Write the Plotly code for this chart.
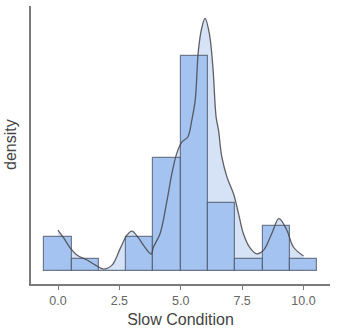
import plotly.graph_objects as go

# Histogram data (counts per bin)
bin_centers = [0.0, 1.111, 2.222, 3.333, 4.444, 5.556, 6.667, 7.778, 8.889, 10.0]
bin_counts = [3, 1, 0, 3, 10, 19, 6, 1, 4, 1]
bin_width = 10 / 9

# Density curve (scaled to counts)
kde_x = [0.0, 0.23, 0.5, 0.77, 1.18, 1.52, 1.86, 2.2, 2.54, 2.81, 3.01, 3.28, 3.5,
         3.79, 3.89, 4.16, 4.44, 4.64, 4.84, 5.05, 5.28, 5.45, 5.59, 5.72, 5.86,
         5.99, 6.17, 6.31, 6.44, 6.54, 6.67, 6.88, 7.15, 7.35, 7.55, 7.83, 8.1,
         8.37, 8.71, 9.0, 9.32, 9.59, 10.0]
kde_y = [3.6, 2.9, 2.0, 1.4, 0.95, 0.5, 0.15, 0.5, 2.0, 3.15, 3.5, 2.9, 2.2,
         1.47, 2.1, 3.3, 6.2, 8.6, 10.4, 11.4, 11.8, 13.3, 15.1, 19.5, 21.5,
         22.3, 20.9, 18.0, 13.6, 12.4, 10.1, 8.3, 6.8, 5.1, 3.3, 2.0, 1.5,
         1.8, 3.3, 4.6, 3.6, 2.1, 1.3]

x_ticks = [0, 2.5, 5, 7.5, 10]
x_ticklabels = ["0.0", "2.5", "5.0", "7.5", "10.0"]

FONT = "Liberation Sans, Arial, sans-serif"
AXIS = "#7a7a7a"
XR = [-1.1, 11.08]
YR = [-1.17, 23.4]

fig = go.Figure()
# density fill on base axes (drawn underneath)
fig.add_trace(go.Scatter(
    x=kde_x, y=kde_y, mode="lines", line=dict(width=0, shape="spline"),
    fill="tozeroy", fillcolor="rgb(214,226,245)", hoverinfo="skip",
    xaxis="x", yaxis="y"))
# bars and curve on overlay axes (drawn on top)
fig.add_trace(go.Bar(
    x=bin_centers, y=bin_counts, width=bin_width,
    marker=dict(color="rgb(165,195,240)",
                line=dict(color="rgba(75,85,105,0.75)", width=1.2)),
    xaxis="x2", yaxis="y2"))
fig.add_trace(go.Scatter(
    x=kde_x, y=kde_y, mode="lines",
    line=dict(color="rgba(70,70,75,0.85)", width=1.3, shape="spline"),
    xaxis="x2", yaxis="y2"))

fig.update_layout(
    width=339, height=336, showlegend=False,
    margin=dict(l=31, r=9, t=6, b=52),
    plot_bgcolor="white", paper_bgcolor="white",
    font=dict(family=FONT, color="#555"),
    bargap=0,
    xaxis=dict(
        range=XR, showgrid=False, zeroline=False,
        showline=True, linecolor=AXIS, linewidth=1.5,
        ticks="outside", ticklen=4, tickcolor=AXIS,
        tickvals=x_ticks, ticktext=x_ticklabels,
        tickfont=dict(size=12.5, color="#666"),
        title=dict(text="Slow Condition", font=dict(size=16, color="#444"), standoff=7),
    ),
    yaxis=dict(
        range=YR, showgrid=False, zeroline=False,
        showline=True, linecolor=AXIS, linewidth=1.5,
        showticklabels=False, ticks="",
    ),
    xaxis2=dict(range=XR, overlaying="x", visible=False),
    yaxis2=dict(range=YR, overlaying="y", visible=False),
    annotations=[dict(
        text="density", textangle=-90, xref="paper", yref="paper",
        x=0, y=0.5, xanchor="center", yanchor="middle", xshift=-21,
        showarrow=False, font=dict(size=16, color="#444"))],
)

fig.write_html("out.html")
